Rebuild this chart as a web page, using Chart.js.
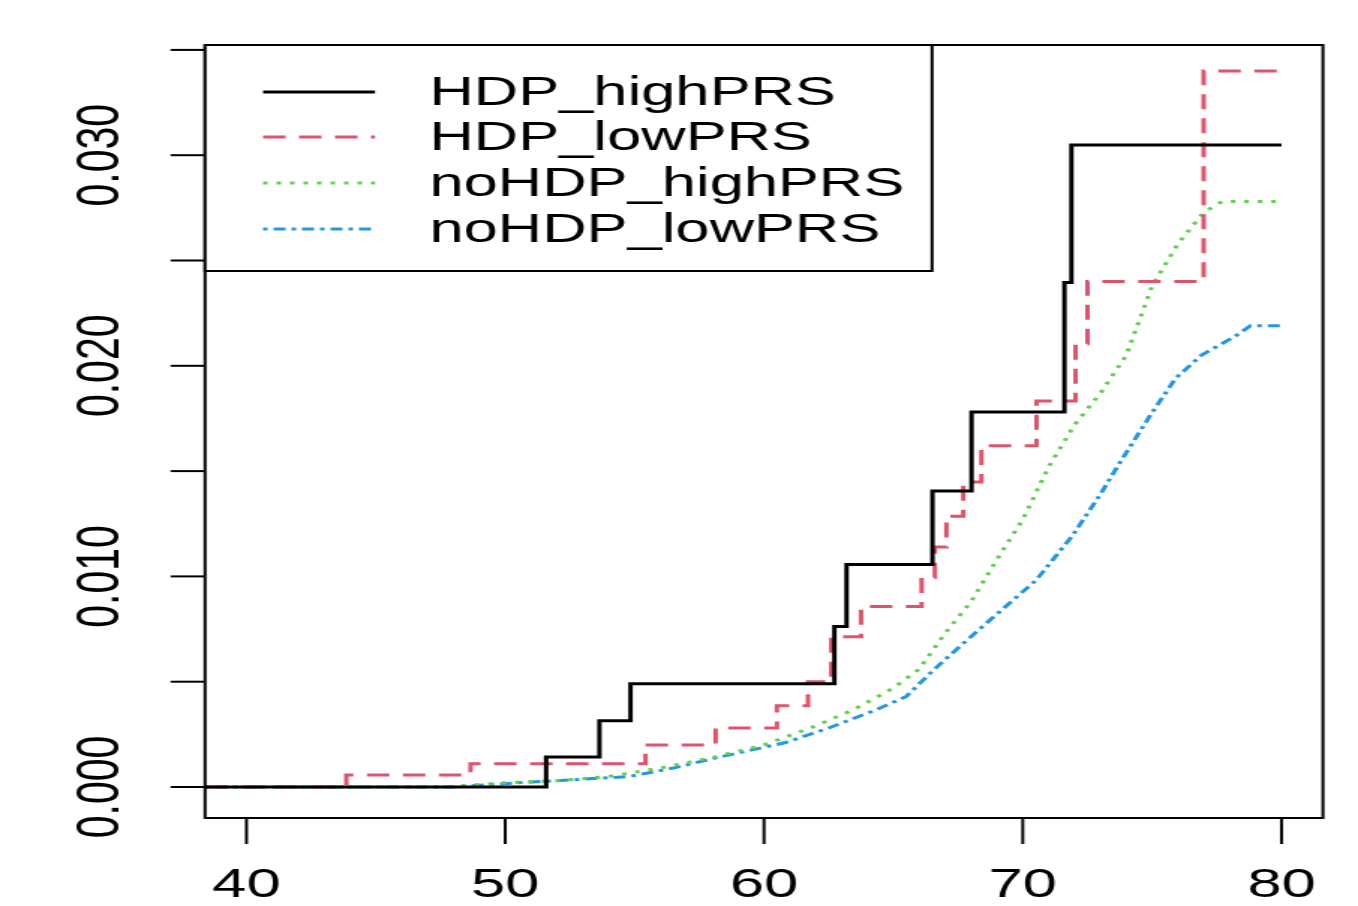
<!DOCTYPE html>
<html>
<head>
<meta charset="utf-8">
<title>Cumulative incidence by HDP and PRS</title>
<script src="https://cdn.jsdelivr.net/npm/chart.js@4/dist/chart.umd.min.js"></script>
<style>
    html, body { margin: 0; padding: 0; background: #fff; overflow: hidden; }
    /* the original R plot was square and stretched sideways, so draw square and stretch */
    #wrap { width: 906px; height: 906px; transform: scaleX(1.4989); transform-origin: 0 0; }
</style>
</head>
<body>
<div id="wrap"><canvas id="incidence-chart" width="906" height="906"></canvas></div>
<script>
// Series labels
const seriesNames = ['HDP_highPRS', 'HDP_lowPRS', 'noHDP_highPRS', 'noHDP_lowPRS'];

// HDP_highPRS (step curve)
const hdpHighAge = [38.4, 51.58, 53.64, 54.84, 62.72, 63.19, 66.51, 68.02, 71.61, 71.88, 80];
const hdpHighVal = [0, 0.00143, 0.00314, 0.0049, 0.00762, 0.01057, 0.01405, 0.01781, 0.02395, 0.03048, 0.03048];

// HDP_lowPRS (step curve)
const hdpLowAge = [38.4, 43.86, 48.66, 55.42, 58.13, 60.5, 61.7, 62.6, 63.75, 66.09, 66.6, 67.05, 67.7, 68.4, 70.53, 72.04, 72.5, 76.99, 80];
const hdpLowVal = [0, 0.00057, 0.0011, 0.002, 0.0028, 0.00386, 0.005, 0.00714, 0.00857, 0.00995, 0.0114, 0.01286, 0.01448, 0.0162, 0.01833, 0.02105, 0.024, 0.034, 0.034];

// noHDP_highPRS
const noHdpHighAge = [38.4, 47.5, 50, 52, 54, 56, 58, 60, 62, 63.5, 65, 66, 67, 68, 69, 70, 71, 72, 73, 74, 75, 76, 77, 77.7, 80];
const noHdpHighVal = [0, 0, 0.0002, 0.0003, 0.0005, 0.0009, 0.0014, 0.002, 0.0029, 0.0037, 0.0047, 0.0056, 0.0073, 0.0088, 0.0108, 0.0127, 0.0152, 0.0172, 0.0187, 0.0205, 0.0238, 0.0258, 0.0273, 0.0278, 0.0278];

// noHDP_lowPRS
const noHdpLowAge = [38.4, 48, 50.5, 52, 54.8, 56.5, 58.2, 60.8, 62.5, 64.4, 65.5, 66.5, 67.5, 68.8, 70.5, 71.9, 73, 73.7, 74.9, 75.9, 76.9, 78.2, 78.8, 80];
const noHdpLowVal = [0, 0, 0.0002, 0.0003, 0.0005, 0.0009, 0.0014, 0.0021, 0.0028, 0.0037, 0.0043, 0.0055, 0.0066, 0.008, 0.0098, 0.0119, 0.0139, 0.0153, 0.0176, 0.0194, 0.0205, 0.0214, 0.0219, 0.0219];

// Axis ticks
const xTicks = [40, 50, 60, 70, 80];
const yTicks = [0, 0.005, 0.01, 0.015, 0.02, 0.025, 0.03, 0.035];
const yTickLabels = ['0.000', '', '0.010', '', '0.020', '', '0.030', ''];

const FONT = '41px "Liberation Sans", Arial, sans-serif';

function toPoints(xs, ys) {
    return xs.map((x, i) => ({ x: x, y: ys[i] }));
}

// R style box, axes and legend drawn on top of the library scales
const rFramePlugin = {
    id: 'rFrame',
    afterDraw(chart) {
        const ctx = chart.ctx;
        const area = chart.chartArea;
        const xs = chart.scales.x;
        const ys = chart.scales.y;

        ctx.save();
        ctx.strokeStyle = '#000';
        ctx.fillStyle = '#000';
        ctx.lineWidth = 2;
        ctx.setLineDash([]);
        ctx.strokeRect(area.left, area.top, area.right - area.left, area.bottom - area.top);

        // x axis
        ctx.font = FONT;
        ctx.textAlign = 'center';
        ctx.textBaseline = 'middle';
        xTicks.forEach(v => {
            const px = xs.getPixelForValue(v);
            ctx.beginPath();
            ctx.moveTo(px, area.bottom);
            ctx.lineTo(px, area.bottom + 26);
            ctx.stroke();
            ctx.fillText(String(v), px, area.bottom + 68);
        });

        // y axis
        yTicks.forEach((v, i) => {
            const py = ys.getPixelForValue(v);
            ctx.beginPath();
            ctx.moveTo(area.left - 23, py);
            ctx.lineTo(area.left, py);
            ctx.stroke();
            if (yTickLabels[i]) {
                ctx.save();
                ctx.translate(area.left - 69, py);
                ctx.rotate(-Math.PI / 2);
                ctx.fillText(yTickLabels[i], 0, 0);
                ctx.restore();
            }
        });

        // legend box
        const boxRight = 621.8, boxBottom = 271;
        ctx.fillStyle = '#fff';
        ctx.fillRect(area.left, area.top, boxRight - area.left, boxBottom - area.top);
        ctx.strokeRect(area.left, area.top, boxRight - area.left, boxBottom - area.top);
        const rows = [92, 137, 183, 229];
        chart.data.datasets.forEach((ds, i) => {
            ctx.save();
            ctx.strokeStyle = ds.borderColor;
            ctx.lineWidth = ds.borderWidth;
            ctx.setLineDash(ds.borderDash || []);
            ctx.beginPath();
            ctx.moveTo(175.5, rows[i]);
            ctx.lineTo(250.2, rows[i]);
            ctx.stroke();
            ctx.restore();
            ctx.fillStyle = '#000';
            ctx.textAlign = 'left';
            ctx.fillText(ds.label, 286.5, rows[i] + 2);
        });
        ctx.restore();
    }
};

const ctx = document.getElementById('incidence-chart').getContext('2d');
new Chart(ctx, {
    type: 'line',
    data: {
        datasets: [
            {
                label: seriesNames[0],
                data: toPoints(hdpHighAge, hdpHighVal),
                borderColor: '#000000',
                borderWidth: 3,
                stepped: 'before'
            },
            {
                label: seriesNames[1],
                data: toPoints(hdpLowAge, hdpLowVal),
                borderColor: '#DF536B',
                borderWidth: 3,
                borderDash: [15, 9],
                stepped: 'before'
            },
            {
                label: seriesNames[2],
                data: toPoints(noHdpHighAge, noHdpHighVal),
                borderColor: '#61D04F',
                borderWidth: 3,
                borderDash: [3, 6]
            },
            {
                label: seriesNames[3],
                data: toPoints(noHdpLowAge, noHdpLowVal),
                borderColor: '#2297E6',
                borderWidth: 3,
                borderDash: [3, 4, 8, 4]
            }
        ]
    },
    options: {
        responsive: false,
        animation: false,
        devicePixelRatio: 1,
        layout: { padding: { left: 136.8, right: 23.4, top: 45, bottom: 88 } },
        elements: { point: { radius: 0 }, line: { tension: 0, borderCapStyle: 'butt' } },
        plugins: {
            legend: { display: false },
            tooltip: { enabled: false }
        },
        scales: {
            x: { type: 'linear', min: 38.4, max: 81.6, display: false },
            y: { type: 'linear', min: -0.001472, max: 0.035233, display: false }
        }
    },
    plugins: [rFramePlugin]
});
</script>
</body>
</html>
